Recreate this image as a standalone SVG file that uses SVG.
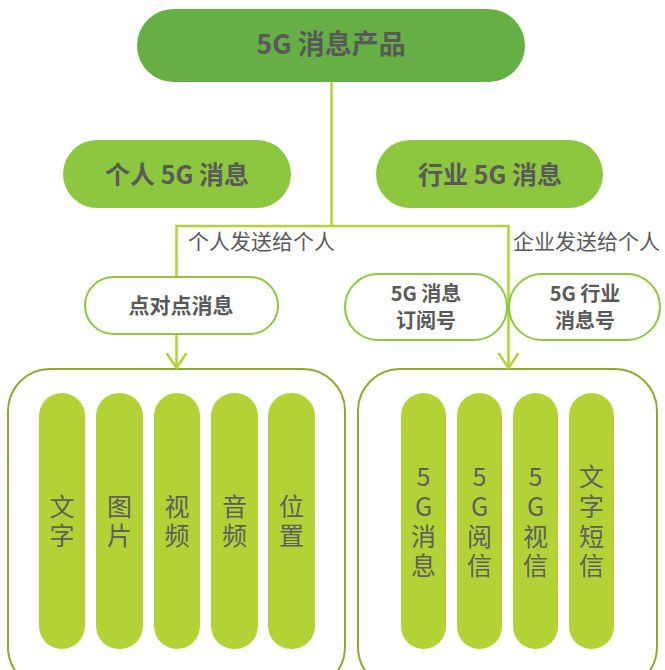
<svg xmlns="http://www.w3.org/2000/svg" width="665" height="670" viewBox="0 0 665 670">
<style>
.t{font-family:"Noto Sans CJK SC","Noto Sans",sans-serif;fill:#595959;text-anchor:middle}
.b{font-weight:bold}
.lbl{font-family:"Noto Sans CJK SC","Noto Sans",sans-serif;fill:#595959;font-size:21px}
.pill{fill:#B2D235}
.pt{font-family:"Noto Sans CJK SC","Noto Sans",sans-serif;fill:#5F5F5F;font-size:25px;text-anchor:middle}
.con{fill:#fff;stroke:#8FA82F;stroke-width:2}
.ol{fill:#fff;stroke:#8DC63F;stroke-width:2}
.ln{fill:none;stroke:#B2D235;stroke-width:2.5}
</style>
<defs>
<marker id="arr" markerUnits="userSpaceOnUse" markerWidth="20" markerHeight="24" refX="15" refY="11" orient="auto" viewBox="0 0 20 24">
<path d="M0,1 L15,11 L0,21" fill="none" stroke="#B2D235" stroke-width="2.5"/>
</marker>
</defs>
<rect width="665" height="670" fill="#fff"/>
<g id="container-left"><rect class="con" x="8" y="369" width="337" height="320" rx="42"/></g>
<g id="container-right"><rect class="con" x="358" y="369" width="299" height="320" rx="42"/></g>
<g id="connectors">
<line class="ln" x1="331.5" y1="82" x2="331.5" y2="226"/>
<polyline class="ln" points="176.5,277 176.5,226 508.5,226 508.5,368" marker-end="url(#arr)"/>
<line class="ln" x1="176.5" y1="334" x2="176.5" y2="368" marker-end="url(#arr)"/>
</g>
<g id="top"><rect x="137" y="9" width="388" height="73" rx="36.5" fill="#66AF45"/><text class="t b" x="331" y="54" font-size="27">5G 消息产品</text></g>
<g id="personal"><rect x="63" y="140" width="228" height="68" rx="34" fill="#8DC63F"/><text class="t b" x="177" y="184" font-size="25">个人 5G 消息</text></g>
<g id="industry"><rect x="376" y="140" width="227" height="68" rx="34" fill="#8DC63F"/><text class="t b" x="490" y="184" font-size="25">行业 5G 消息</text></g>
<text class="lbl" x="188" y="249">个人发送给个人</text>
<text class="lbl" x="513" y="249">企业发送给个人</text>
<g id="p2p"><rect class="ol" x="85" y="277" width="193" height="57" rx="28.5"/><text class="t b" x="181" y="313" font-size="21">点对点消息</text></g>
<g id="subscribe"><rect class="ol" x="345" y="274" width="162" height="66" rx="33"/><text class="t b" x="426" y="301" font-size="20">5G 消息<tspan x="426" y="328">订阅号</tspan></text></g>
<g id="industry-id"><rect class="ol" x="509" y="274" width="151" height="66" rx="33"/><text class="t b" x="585" y="301" font-size="20">5G 行业<tspan x="585" y="328">消息号</tspan></text></g>
<g id="text"><rect class="pill" x="39" y="393" width="46" height="256" rx="23"/><text class="pt" x="62" y="516">文<tspan x="62" y="545">字</tspan></text></g>
<g id="image"><rect class="pill" x="96" y="393" width="47" height="256" rx="23"/><text class="pt" x="119.5" y="516">图<tspan x="119.5" y="545">片</tspan></text></g>
<g id="video"><rect class="pill" x="154" y="393" width="46" height="256" rx="23"/><text class="pt" x="177" y="516">视<tspan x="177" y="545">频</tspan></text></g>
<g id="audio"><rect class="pill" x="211" y="393" width="47" height="256" rx="23"/><text class="pt" x="234.5" y="516">音<tspan x="234.5" y="545">频</tspan></text></g>
<g id="location"><rect class="pill" x="268" y="393" width="47" height="256" rx="23"/><text class="pt" x="291.5" y="516">位<tspan x="291.5" y="545">置</tspan></text></g>
<g id="msg5g"><rect class="pill" x="401" y="393" width="45" height="256" rx="22.5"/><text class="pt" x="423.5" y="486">5<tspan x="423.5" y="516">G</tspan><tspan x="423.5" y="546">消</tspan><tspan x="423.5" y="575">息</tspan></text></g>
<g id="read5g"><rect class="pill" x="457" y="393" width="45" height="256" rx="22.5"/><text class="pt" x="479.5" y="486">5<tspan x="479.5" y="516">G</tspan><tspan x="479.5" y="546">阅</tspan><tspan x="479.5" y="575">信</tspan></text></g>
<g id="vid5g"><rect class="pill" x="513" y="393" width="45" height="256" rx="22.5"/><text class="pt" x="535.5" y="486">5<tspan x="535.5" y="516">G</tspan><tspan x="535.5" y="546">视</tspan><tspan x="535.5" y="575">信</tspan></text></g>
<g id="sms"><rect class="pill" x="569" y="393" width="45" height="256" rx="22.5"/><text class="pt" x="591.5" y="486">文<tspan x="591.5" y="516">字</tspan><tspan x="591.5" y="546">短</tspan><tspan x="591.5" y="575">信</tspan></text></g>
</svg>
